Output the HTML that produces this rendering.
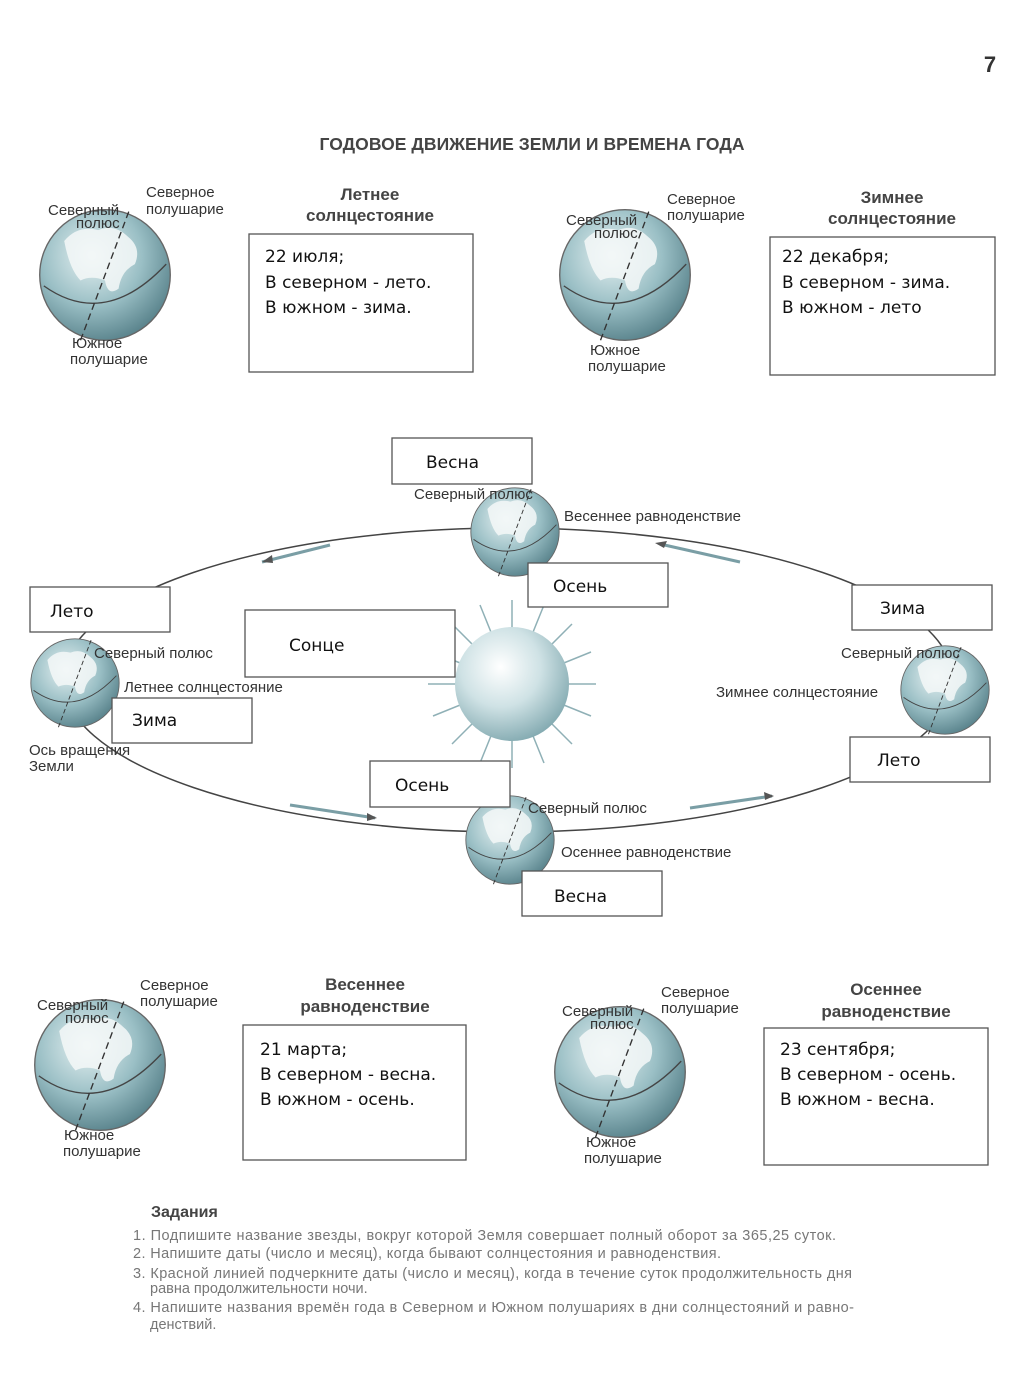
<!DOCTYPE html>
<html><head><meta charset="utf-8"><style>
html,body{margin:0;padding:0;background:#fff;}
svg{display:block;font-family:"Liberation Sans",sans-serif;}
.hw{font-family:"DejaVu Sans","Liberation Sans",sans-serif;font-size:17px;fill:#111;}
.lb{font-size:15px;fill:#333;}
.tt{font-size:17px;font-weight:bold;fill:#444;text-anchor:middle;}
.box{fill:#fff;stroke:#555;stroke-width:1.3;}
</style></head><body>
<svg width="1024" height="1373" viewBox="0 0 1024 1373" xmlns="http://www.w3.org/2000/svg">
<defs>
<radialGradient id="g" cx="40%" cy="35%" r="70%">
<stop offset="0" stop-color="#e6f1f2"/><stop offset="0.55" stop-color="#9abfc5"/><stop offset="1" stop-color="#557f88"/></radialGradient>
<radialGradient id="sun" cx="40%" cy="35%" r="70%">
<stop offset="0" stop-color="#ffffff"/><stop offset="0.5" stop-color="#cfe2e5"/><stop offset="1" stop-color="#7fa7ae"/></radialGradient>
<symbol id="globe" viewBox="-50 -50 100 100">
<circle r="48" fill="url(#g)" stroke="#666" stroke-width="1"/>
<path d="M-30,-25 q10,-12 25,-8 q12,-5 22,5 q10,8 5,20 q-10,5 -12,18 q-8,6 -10,-6 q-10,-4 -18,0 q-8,-8 -12,-29z" fill="#f4f8f8" opacity="0.85"/>
<path d="M-45,8 Q0,40 45,-8" fill="none" stroke="#444" stroke-width="1"/>
<line x1="-18" y1="48" x2="18" y2="-48" stroke="#333" stroke-width="1" stroke-dasharray="5,3"/>
</symbol>
</defs>
<text x="990" y="72" font-size="22" font-weight="bold" fill="#333" text-anchor="middle">7</text>
<text x="532" y="150" font-size="17.5" font-weight="bold" fill="#444" text-anchor="middle" textLength="425">ГОДОВОЕ ДВИЖЕНИЕ ЗЕМЛИ И ВРЕМЕНА ГОДА</text>

<!-- top-left -->
<use href="#globe" x="37" y="207" width="136" height="136"/>
<text class="lb" x="146" y="197">Северное</text><text class="lb" x="146" y="214">полушарие</text>
<text class="lb" x="48" y="215">Северный</text><text class="lb" x="76" y="228">полюс</text>
<text class="lb" x="72" y="348">Южное</text><text class="lb" x="70" y="364">полушарие</text>
<text class="tt" x="370" y="200">Летнее</text><text class="tt" x="370" y="221">солнцестояние</text>
<rect class="box" x="249" y="234" width="224" height="138"/>
<text class="hw" x="265" y="262">22 июля;</text><text class="hw" x="265" y="288">В северном - лето.</text><text class="hw" x="265" y="313">В южном - зима.</text>

<!-- top-right -->
<use href="#globe" x="557" y="207" width="136" height="136"/>
<text class="lb" x="667" y="204">Северное</text><text class="lb" x="667" y="220">полушарие</text>
<text class="lb" x="566" y="225">Северный</text><text class="lb" x="594" y="238">полюс</text>
<text class="lb" x="590" y="355">Южное</text><text class="lb" x="588" y="371">полушарие</text>
<text class="tt" x="892" y="203">Зимнее</text><text class="tt" x="892" y="224">солнцестояние</text>
<rect class="box" x="770" y="237" width="225" height="138"/>
<text class="hw" x="782" y="262">22 декабря;</text><text class="hw" x="782" y="288">В северном - зима.</text><text class="hw" x="782" y="313">В южном - лето</text>

<!-- orbit -->
<ellipse cx="508" cy="680" rx="445" ry="152" fill="none" stroke="#444" stroke-width="1.5"/>
<path d="M330,545 L262,562" stroke="#7a9ea5" stroke-width="3"/><path d="M262,562 l10,-7 l1,8z" fill="#555"/>
<path d="M660,544 L740,562" stroke="#7a9ea5" stroke-width="3"/><path d="M655,543 l12,-2 l-3,7z" fill="#555"/>
<path d="M290,805 L375,818" stroke="#7a9ea5" stroke-width="3"/><path d="M377,818 l-10,-5 l0,8z" fill="#555"/>
<path d="M690,808 L772,796" stroke="#7a9ea5" stroke-width="3"/><path d="M774,796 l-10,-4 l1,8z" fill="#555"/>

<!-- sun -->
<g stroke="#8fb0b6" stroke-width="1.5">
<line x1="512" y1="600" x2="512" y2="768"/><line x1="428" y1="684" x2="596" y2="684"/>
<line x1="452" y1="624" x2="572" y2="744"/><line x1="572" y1="624" x2="452" y2="744"/>
<line x1="480" y1="605" x2="544" y2="763"/><line x1="544" y1="605" x2="480" y2="763"/>
<line x1="433" y1="652" x2="591" y2="716"/><line x1="433" y1="716" x2="591" y2="652"/>
</g>
<circle cx="512" cy="684" r="57" fill="url(#sun)"/>

<use href="#globe" x="469" y="486" width="92" height="92"/>
<use href="#globe" x="29" y="637" width="92" height="92"/>
<use href="#globe" x="899" y="644" width="92" height="92"/>
<use href="#globe" x="464" y="794" width="92" height="92"/>

<text class="lb" x="414" y="499" font-size="13.5">Северный полюс</text>
<text class="lb" x="564" y="521">Весеннее равноденствие</text>
<text class="lb" x="94" y="658" font-size="13.5">Северный полюс</text>
<text class="lb" x="124" y="692">Летнее солнцестояние</text>
<text class="lb" x="29" y="755">Ось вращения</text><text class="lb" x="29" y="771">Земли</text>
<text class="lb" x="841" y="658" font-size="13.5">Северный полюс</text>
<text class="lb" x="716" y="697">Зимнее солнцестояние</text>
<text class="lb" x="528" y="813" font-size="13.5">Северный полюс</text>
<text class="lb" x="561" y="857">Осеннее равноденствие</text>

<g>
<rect class="box" x="392" y="438" width="140" height="46"/><text class="hw" x="426" y="468">Весна</text>
<rect class="box" x="528" y="563" width="140" height="44"/><text class="hw" x="553" y="592">Осень</text>
<rect class="box" x="30" y="587" width="140" height="45"/><text class="hw" x="50" y="617">Лето</text>
<rect class="box" x="245" y="610" width="210" height="67"/><text class="hw" x="289" y="651">Сонце</text>
<rect class="box" x="112" y="698" width="140" height="45"/><text class="hw" x="132" y="726">Зима</text>
<rect class="box" x="852" y="585" width="140" height="45"/><text class="hw" x="880" y="614">Зима</text>
<rect class="box" x="850" y="737" width="140" height="45"/><text class="hw" x="877" y="766">Лето</text>
<rect class="box" x="370" y="761" width="140" height="46"/><text class="hw" x="395" y="791">Осень</text>
<rect class="box" x="522" y="871" width="140" height="45"/><text class="hw" x="554" y="902">Весна</text>
</g>

<!-- bottom-left -->
<use href="#globe" x="32" y="997" width="136" height="136"/>
<text class="lb" x="140" y="990">Северное</text><text class="lb" x="140" y="1006">полушарие</text>
<text class="lb" x="37" y="1010">Северный</text><text class="lb" x="65" y="1023">полюс</text>
<text class="lb" x="64" y="1140">Южное</text><text class="lb" x="63" y="1156">полушарие</text>
<text class="tt" x="365" y="990">Весеннее</text><text class="tt" x="365" y="1012">равноденствие</text>
<rect class="box" x="243" y="1025" width="223" height="135"/>
<text class="hw" x="260" y="1055">21 марта;</text><text class="hw" x="260" y="1080">В северном - весна.</text><text class="hw" x="260" y="1105">В южном - осень.</text>

<!-- bottom-right -->
<use href="#globe" x="552" y="1004" width="136" height="136"/>
<text class="lb" x="661" y="997">Северное</text><text class="lb" x="661" y="1013">полушарие</text>
<text class="lb" x="562" y="1016">Северный</text><text class="lb" x="590" y="1029">полюс</text>
<text class="lb" x="586" y="1147">Южное</text><text class="lb" x="584" y="1163">полушарие</text>
<text class="tt" x="886" y="995">Осеннее</text><text class="tt" x="886" y="1017">равноденствие</text>
<rect class="box" x="764" y="1028" width="224" height="137"/>
<text class="hw" x="780" y="1055">23 сентября;</text><text class="hw" x="780" y="1080">В северном - осень.</text><text class="hw" x="780" y="1105">В южном - весна.</text>

<!-- tasks -->
<text x="151" y="1217" font-size="16" font-weight="bold" fill="#444">Задания</text>
<g font-size="14.5" fill="#777">
<text x="133" y="1240" textLength="703">1. Подпишите название звезды, вокруг которой Земля совершает полный оборот за 365,25 суток.</text>
<text x="133" y="1258" textLength="588">2. Напишите даты (число и месяц), когда бывают солнцестояния и равноденствия.</text>
<text x="133" y="1278" textLength="719">3. Красной линией подчеркните даты (число и месяц), когда в течение суток продолжительность дня</text>
<text x="150" y="1293">равна продолжительности ночи.</text>
<text x="133" y="1312" textLength="721">4. Напишите названия времён года в Северном и Южном полушариях в дни солнцестояний и равно-</text>
<text x="150" y="1329">денствий.</text>
</g>
</svg>
</body></html>
